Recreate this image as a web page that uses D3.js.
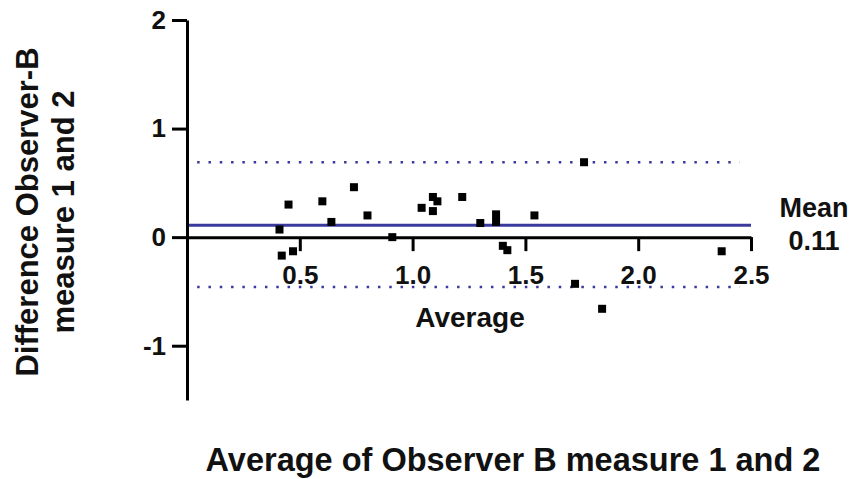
<!DOCTYPE html>
<html>
<head>
<meta charset="utf-8">
<script src="https://cdn.jsdelivr.net/npm/d3@7/dist/d3.min.js"></script>
<style>
  html, body { margin: 0; padding: 0; background: #fff; }
  svg { display: block; }
  text { font-family: Arial, "Liberation Sans", sans-serif; font-weight: bold; fill: #111; }
</style>
</head>
<body>
<svg id="chart" width="855" height="479"></svg>
<script>
// ---- data ----
const averages = [0.41, 0.42, 0.45, 0.47, 0.60, 0.64, 0.74, 0.80, 0.91, 1.04, 1.09, 1.11, 1.09, 1.22, 1.30, 1.37, 1.37, 1.40, 1.42, 1.54, 1.72, 1.76, 1.84, 2.37];
const differences = [0.07, -0.17, 0.30, -0.13, 0.33, 0.14, 0.46, 0.20, 0.00, 0.27, 0.37, 0.33, 0.24, 0.37, 0.13, 0.21, 0.14, -0.08, -0.12, 0.20, -0.43, 0.69, -0.66, -0.13];
const meanDiff = 0.11;
const upperLoA = 0.69;
const lowerLoA = -0.46;
const xTicks = [0.5, 1.0, 1.5, 2.0, 2.5];
const yTicks = [-1, 0, 1, 2];
const yTickLabels = ["-1", "0", "1", "2"];
const xDomain = [0, 2.5];
const yDomain = [-1.5, 2];

const svg = d3.select("#chart");
const x = d3.scaleLinear().domain(xDomain).range([187, 751]);
const y = d3.scaleLinear().domain(yDomain).range([400, 20]);

const blue = "#3a3a9e";
const font = "Arial, 'Liberation Sans', sans-serif";

// limits of agreement (dotted)
[upperLoA, lowerLoA].forEach(v => {
  svg.append("line")
    .attr("x1", x(0.045)).attr("x2", x(2.45))
    .attr("y1", y(v)).attr("y2", y(v))
    .attr("stroke", blue).attr("stroke-width", 2.5)
    .attr("stroke-dasharray", "2.5,8.8");
});

// mean line
svg.append("line")
  .attr("x1", x(0)).attr("x2", x(2.5))
  .attr("y1", y(meanDiff)).attr("y2", y(meanDiff))
  .attr("stroke", blue).attr("stroke-width", 3);

// x axis (at y = 0)
const xAxis = svg.append("g")
  .attr("transform", `translate(0,${y(0)})`)
  .call(d3.axisBottom(x).tickValues(xTicks).tickFormat(d3.format(".1f")).tickSize(14).tickSizeOuter(0).tickPadding(14));
xAxis.select(".domain").attr("stroke", "#000").attr("stroke-width", 3);
xAxis.selectAll(".tick line").attr("stroke", "#000").attr("stroke-width", 3);
xAxis.selectAll(".tick text").attr("font-size", 26).attr("font-family", font).attr("font-weight", "bold").attr("fill", "#111");

// y axis
const yAxis = svg.append("g")
  .attr("transform", `translate(${x(0)},0)`)
  .call(d3.axisLeft(y).tickValues(yTicks).tickFormat((d, i) => yTickLabels[i]).tickSize(15).tickSizeOuter(0).tickPadding(6));
yAxis.select(".domain").attr("stroke", "#000").attr("stroke-width", 3);
yAxis.selectAll(".tick line").attr("stroke", "#000").attr("stroke-width", 3);
yAxis.selectAll(".tick text").attr("font-size", 26).attr("font-family", font).attr("font-weight", "bold").attr("fill", "#111");

// points
const pts = averages.map((a, i) => ({ a, d: differences[i] }));
const s = 8;
svg.append("g").selectAll("rect").data(pts).join("rect")
  .attr("x", p => x(p.a) - s / 2)
  .attr("y", p => y(p.d) - s / 2)
  .attr("width", s).attr("height", s)
  .attr("fill", "#000");

// labels
svg.append("text").attr("x", 814).attr("y", 217).attr("text-anchor", "middle").attr("font-size", 27).text("Mean");
svg.append("text").attr("x", 814).attr("y", 250).attr("text-anchor", "middle").attr("font-size", 27).text("0.11");
svg.append("text").attr("x", 470).attr("y", 327).attr("text-anchor", "middle").attr("font-size", 28).text("Average");

svg.append("text").attr("x", 513).attr("y", 471).attr("text-anchor", "middle").attr("font-size", 32.5)
  .text("Average of Observer B measure 1 and 2");

const yl = svg.append("g").attr("transform", "translate(0,212) rotate(-90)");
yl.append("text").attr("x", 0).attr("y", 38).attr("text-anchor", "middle").attr("font-size", 31).text("Difference Observer-B");
yl.append("text").attr("x", 0).attr("y", 74).attr("text-anchor", "middle").attr("font-size", 31).text("measure 1 and 2");
</script>
</body>
</html>
